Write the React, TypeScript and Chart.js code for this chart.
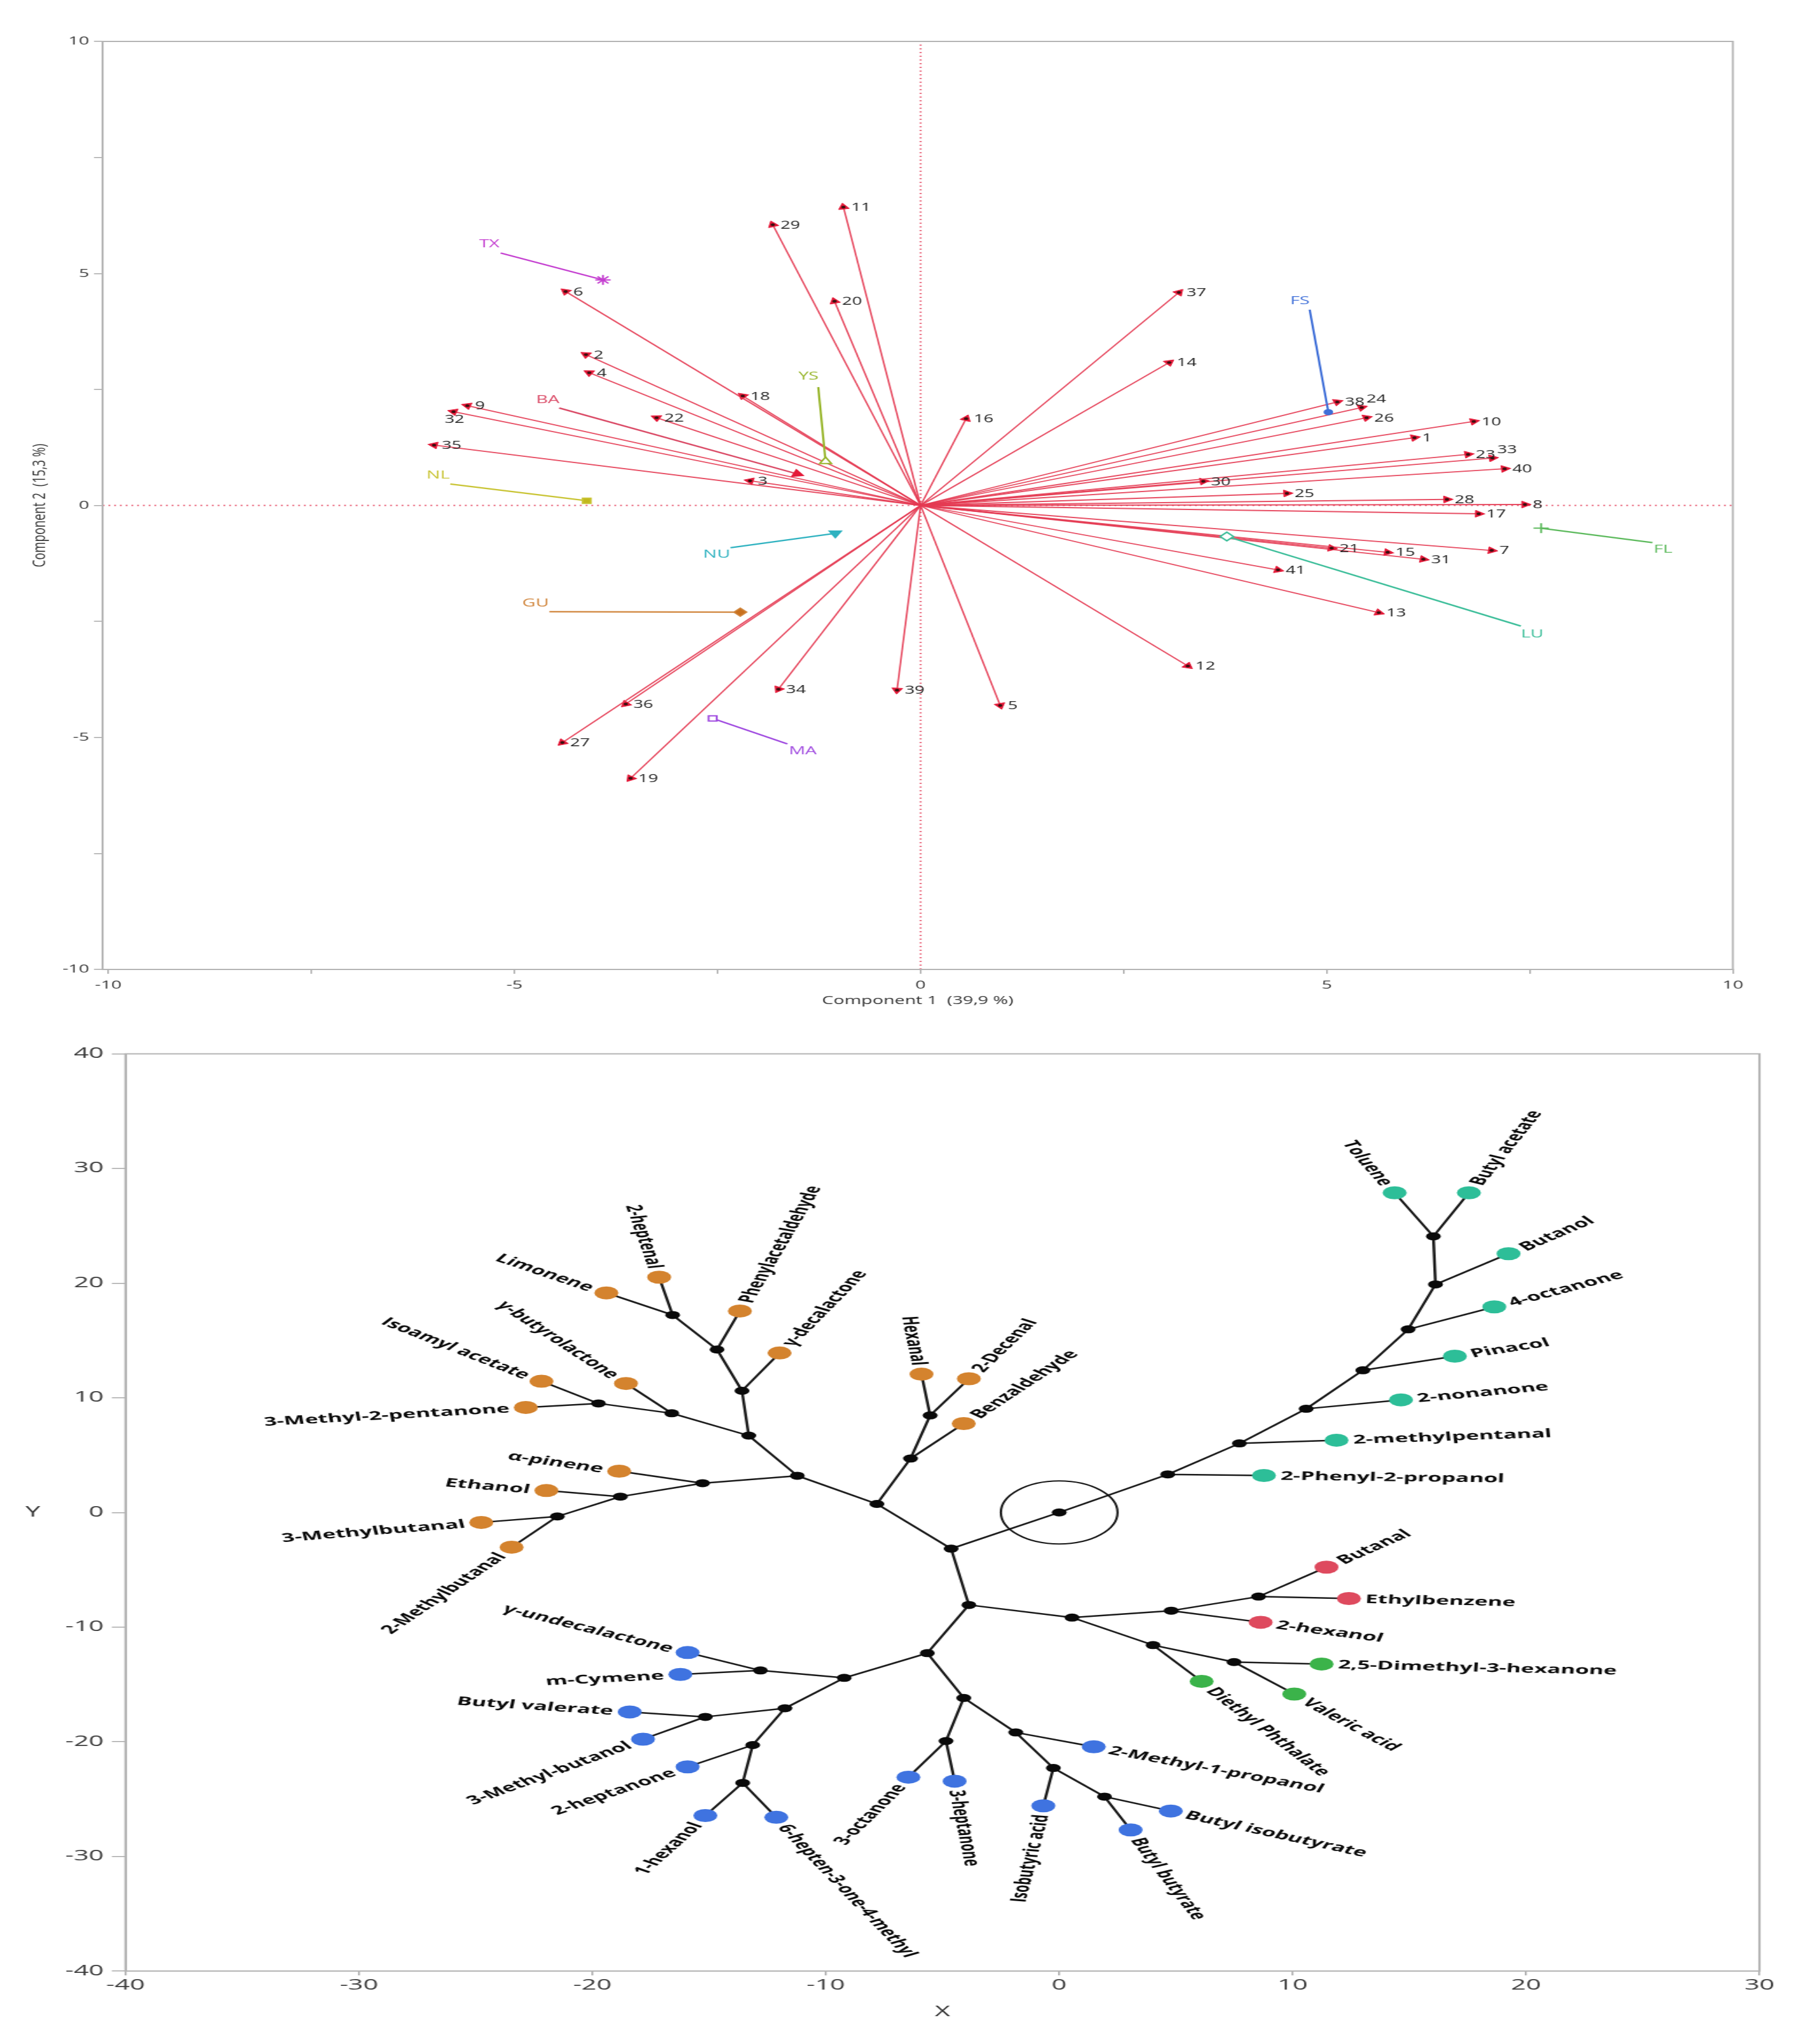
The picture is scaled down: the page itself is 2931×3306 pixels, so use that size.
import React, { useEffect, useRef } from 'react';
import { Chart, registerables } from 'chart.js';

Chart.register(...registerables);

const FONT = '"Open Sans", "Liberation Sans", Arial, sans-serif';
const PAGE_W = 2931;
const PAGE_H = 3306;

// ================= Top panel: PCA biplot =================
const compoundIds = ['1','2','3','4','5','6','7','8','9','10','11','12','13','14','15','16','17','18','19','20','21','22','23','24','25','26','27','28','29','30','31','32','33','34','35','36','37','38','39','40','41'];
const comp1Scores = [6.08,-4.12,-2.10,-4.08,0.98,-4.37,7.03,7.44,-5.58,6.81,-0.95,3.29,5.64,3.06,5.75,0.56,6.87,-2.19,-3.57,-1.06,5.06,-3.25,6.74,5.43,4.51,5.49,-4.41,6.48,-1.82,3.48,6.19,-5.75,7.04,-1.75,-5.99,-3.63,3.18,5.13,-0.29,7.19,4.40];
const comp2Scores = [1.46,3.25,0.53,2.86,-4.31,4.61,-0.97,0.02,2.15,1.81,6.43,-3.46,-2.31,3.08,-1.01,1.87,-0.18,2.36,-5.88,4.40,-0.92,1.89,1.10,2.11,0.26,1.89,-5.11,0.13,6.05,0.52,-1.16,2.02,1.02,-3.96,1.30,-4.28,4.59,2.23,-3.98,0.79,-1.39];
const idLabelPlacement: Record<string, string> = { '32': 'below', '24': 'aboveRight', '33': 'aboveRight' };
const biplotTicks = [-10, -7.5, -5, -2.5, 0, 2.5, 5, 7.5, 10];

const attrNames = ['TX','BA','YS','NL','NU','GU','MA','FS','LU','FL'];
const attrLabelX = [-5.31,-4.59,-1.38,-5.94,-2.51,-4.74,-1.45,4.67,7.53,9.14];
const attrLabelY = [5.64,2.28,2.78,0.65,-1.05,-2.11,-5.29,4.41,-2.77,-0.95];
const attrStartX = [-5.17,-4.45,-1.26,-5.79,-2.34,-4.57,-1.64,4.79,7.39,9.01];
const attrStartY = [5.44,2.10,2.55,0.46,-0.91,-2.29,-5.14,4.22,-2.60,-0.80];
const attrEndX = [-3.91,-1.52,-1.17,-4.11,-1.05,-2.22,-2.56,5.02,3.77,7.64];
const attrEndY = [4.86,0.68,0.95,0.10,-0.60,-2.30,-4.59,2.01,-0.67,-0.49];

// styles for attribute vectors
const attrColors = ['#C43FD0','#DA4A66','#97B52A','#C9C435','#2FB2C0','#D0843A','#A04BE0','#3F6FD8','#3DBE9A','#5DBA5D'];
const attrFill = ['#C43FD0','#E41B3A','#FFFFFF','#C2B81E','#2FB2C0','#C8701E','#FFFFFF','#3F6FD8','#FFFFFF','#5DBA5D'];
const attrMarker = ['star','triangle','triangle','rect','triangle','rectRot','rect','circle','rectRot','cross'];
const attrMarkerSize = [8,6.5,7,6,7,6.5,6,4,7,8];
const attrRotation: (number | string)[] = [0,'along',0,0,180,0,0,0,0,0];

const TOP_W = 1891;
const TOP_H = 1660;
const ARROW_LINE = 'rgba(228,58,82,0.9)';
const ARROW_HEAD = '#E41B3A';
const FRAME = '#b4b4b4';

function headRotation(ctx: any) {
  const chart = ctx.chart;
  const d = ctx.dataset && ctx.dataset.data;
  const xs = chart && chart.scales && chart.scales.x;
  const ys = chart && chart.scales && chart.scales.y;
  if (!d || !xs || !ys) return 0;
  const a = d[0], b = d[1];
  const dx = xs.getPixelForValue(b.x) - xs.getPixelForValue(a.x);
  const dy = ys.getPixelForValue(b.y) - ys.getPixelForValue(a.y);
  return (Math.atan2(dy, dx) * 180) / Math.PI + 90;
}

const biplotLabels = {
  id: 'biplotLabels',
  afterDatasetsDraw(chart: any) {
    const { ctx, chartArea, scales } = chart;
    const xs = scales.x, ys = scales.y;
    ctx.save();
    ctx.strokeStyle = FRAME;
    ctx.lineWidth = 2;
    ctx.strokeRect(chartArea.left, chartArea.top, chartArea.right - chartArea.left, chartArea.bottom - chartArea.top);
    ctx.font = `18px ${FONT}`;
    ctx.fillStyle = '#222';
    ctx.textBaseline = 'middle';
    compoundIds.forEach((id, i) => {
      const px = xs.getPixelForValue(comp1Scores[i]);
      const py = ys.getPixelForValue(comp2Scores[i]);
      const place = idLabelPlacement[id] || 'right';
      if (place === 'below') {
        ctx.textAlign = 'center';
        ctx.fillText(id, px + 1, py + 13);
      } else if (place === 'aboveRight') {
        ctx.textAlign = 'left';
        ctx.fillText(id, px + 5, py - 13);
      } else {
        ctx.textAlign = 'left';
        ctx.fillText(id, px + 8, py + 1);
      }
    });
    ctx.font = `19px ${FONT}`;
    ctx.textAlign = 'center';
    attrNames.forEach((name, i) => {
      ctx.fillStyle = attrColors[i];
      ctx.fillText(name, xs.getPixelForValue(attrLabelX[i]), ys.getPixelForValue(attrLabelY[i]));
    });
    ctx.restore();
  },
};

function buildBiplotConfig() {
  const datasets: any[] = [];
  const zeroStyle = {
    showLine: true,
    borderColor: 'rgba(232,92,115,0.95)',
    borderWidth: 2,
    borderDash: [2, 4],
    pointRadius: 0,
    order: 30,
  };
  datasets.push({ ...zeroStyle, data: [{ x: -10.07, y: 0 }, { x: 10, y: 0 }] });
  datasets.push({ ...zeroStyle, data: [{ x: 0, y: -10 }, { x: 0, y: 10 }] });

  compoundIds.forEach((id, i) => {
    datasets.push({
      label: id,
      data: [{ x: 0, y: 0 }, { x: comp1Scores[i], y: comp2Scores[i] }],
      showLine: true,
      borderColor: ARROW_LINE,
      borderWidth: 1.8,
      pointRadius: [0, 6.5],
      pointStyle: 'triangle',
      pointBackgroundColor: ARROW_HEAD,
      pointBorderColor: ARROW_HEAD,
      pointBorderWidth: 1,
      pointRotation: headRotation,
      order: 20,
    });
  });

  attrNames.forEach((name, i) => {
    const rot = attrRotation[i];
    datasets.push({
      label: name,
      data: [{ x: attrStartX[i], y: attrStartY[i] }, { x: attrEndX[i], y: attrEndY[i] }],
      showLine: true,
      borderColor: attrColors[i],
      borderWidth: 2.3,
      pointRadius: [0, attrMarkerSize[i]],
      pointStyle: attrMarker[i],
      pointBackgroundColor: attrFill[i],
      pointBorderColor: name === 'BA' ? ARROW_HEAD : attrColors[i],
      pointBorderWidth: 2,
      pointRotation: rot === 'along' ? headRotation : rot,
      order: 10,
    });
  });

  datasets.push({
    label: 'tips',
    data: compoundIds.map((_, i) => ({ x: comp1Scores[i], y: comp2Scores[i] })),
    showLine: false,
    pointRadius: 2.2,
    pointBackgroundColor: '#3a1010',
    pointBorderWidth: 0,
    order: 5,
  });

  const tickFont = { family: FONT, size: 19 };
  const setTicks = (s: any) => { s.ticks = biplotTicks.map((v) => ({ value: v })); };
  const fmt = (v: any) => (Math.abs(v % 5) < 1e-9 ? String(v) : '');
  return {
    type: 'scatter',
    data: { datasets },
    plugins: [biplotLabels],
    options: {
      responsive: false,
      animation: false,
      devicePixelRatio: 1,
      events: [],
      layout: { autoPadding: false, padding: { top: 67, right: 82.6, bottom: 0, left: 0 } },
      plugins: { legend: { display: false }, tooltip: { enabled: false } },
      scales: {
        x: {
          type: 'linear',
          min: -10.07,
          max: 10,
          afterBuildTicks: setTicks,
          afterFit: (s: any) => { s.height = TOP_H - 1568; },
          ticks: { autoSkip: false, maxRotation: 0, padding: 7, color: '#3a3a3a', font: tickFont, callback: fmt },
          grid: { drawOnChartArea: false, drawTicks: true, tickLength: 7, color: '#a8a8a8', lineWidth: 1.5 },
          border: { display: true, color: FRAME, width: 2 },
          title: { display: true, text: 'Component 1  (39,9 %)', color: '#333', font: { family: FONT, size: 19 }, padding: { top: 0, bottom: 30 } },
        },
        y: {
          type: 'linear',
          min: -10,
          max: 10,
          afterBuildTicks: setTicks,
          afterFit: (s: any) => { s.width = 166 / (PAGE_W / TOP_W); },
          ticks: { autoSkip: false, padding: 5, color: '#3a3a3a', font: tickFont, callback: fmt },
          grid: { drawOnChartArea: false, drawTicks: true, tickLength: 9, color: '#a8a8a8', lineWidth: 1.5 },
          border: { display: true, color: FRAME, width: 2 },
          title: { display: true, text: 'Component 2  (15,3 %)', color: '#333', font: { family: FONT, size: 19 }, padding: { top: 30, bottom: 0 } },
        },
      },
    },
  };
}

// ================= Bottom panel: dendrogram tree =================
const innerIds = ['R','A1','A2','A3','A4','A5','A6','A7','N1','N2','N5','N6','N4','N7','N9','N11','N12','N10','N13','N8','N14','N15','N3','N16','N18','N20','N19','N21','N17','N22','N24','N25','N26','N27','N28','N23','N29','N30','N31','N32'];
const innerX = [0,4.65,7.72,10.58,13.01,14.95,16.12,16.03,-4.63,-7.81,-6.37,-5.53,-11.22,-13.30,-13.59,-14.66,-16.56,-16.60,-19.74,-15.28,-18.80,-21.50,-3.87,0.55,4.80,8.54,4.02,7.49,-5.65,-9.21,-12.80,-11.75,-15.16,-13.13,-13.56,-4.09,-4.85,-1.86,-0.25,1.94];
const innerY = [0,3.32,6.02,9.04,12.40,15.97,19.89,24.08,-3.16,0.74,4.70,8.46,3.20,6.70,10.61,14.21,17.22,8.65,9.51,2.55,1.38,-0.35,-8.07,-9.17,-8.57,-7.34,-11.57,-13.05,-12.27,-14.43,-13.78,-17.08,-17.83,-20.29,-23.59,-16.18,-19.94,-19.19,-22.29,-24.79];
const innerParent: (string | null)[] = [null,'R','A1','A2','A3','A4','A5','A6','R','N1','N2','N5','N2','N4','N7','N9','N11','N7','N10','N4','N8','N14','N1','N3','N16','N18','N16','N19','N3','N17','N22','N22','N25','N25','N27','N17','N23','N23','N30','N31'];

const leafNames = ['Limonene','2-heptenal','Phenylacetaldehyde','γ-decalactone','Hexanal','2-Decenal','Benzaldehyde','γ-butyrolactone','Isoamyl acetate','3-Methyl-2-pentanone','α-pinene','Ethanol','3-Methylbutanal','2-Methylbutanal',
  'Toluene','Butyl acetate','Butanol','4-octanone','Pinacol','2-nonanone','2-methylpentanal','2-Phenyl-2-propanol',
  'Butanal','Ethylbenzene','2-hexanol',
  'Diethyl Phthalate','2,5-Dimethyl-3-hexanone','Valeric acid',
  'γ-undecalactone','m-Cymene','Butyl valerate','3-Methyl-butanol','2-heptanone','1-hexanol','6-hepten-3-one-4-methyl','3-octanone','3-heptanone','2-Methyl-1-propanol','Isobutyric acid','Butyl isobutyrate','Butyl butyrate'];
const leafX = [-19.40,-17.14,-13.68,-11.98,-5.90,-3.87,-4.09,-18.56,-22.18,-22.85,-18.85,-21.97,-24.76,-23.46,
  14.37,17.55,19.25,18.64,16.95,14.64,11.88,8.77,
  11.45,12.41,8.63,
  6.10,11.24,10.07,
  -15.92,-16.23,-18.40,-17.83,-15.92,-15.16,-12.12,-6.46,-4.48,1.48,-0.68,4.78,3.06];
const leafY = [19.15,20.52,17.57,13.91,12.06,11.66,7.75,11.25,11.44,9.16,3.60,1.91,-0.87,-3.03,
  27.88,27.88,22.57,17.93,13.63,9.82,6.30,3.22,
  -4.77,-7.51,-9.58,
  -14.73,-13.22,-15.84,
  -12.22,-14.13,-17.40,-19.78,-22.19,-26.44,-26.59,-23.09,-23.44,-20.44,-25.59,-26.04,-27.69];
const leafParent = ['N12','N12','N11','N9','N6','N6','N5','N10','N13','N13','N8','N14','N15','N15',
  'A7','A7','A6','A5','A4','A3','A2','A1',
  'N20','N20','N18',
  'N19','N21','N21',
  'N24','N24','N26','N26','N27','N28','N28','N29','N29','N30','N31','N32','N32'];
const leafGroup = ['orange','orange','orange','orange','orange','orange','orange','orange','orange','orange','orange','orange','orange','orange',
  'teal','teal','teal','teal','teal','teal','teal','teal',
  'red','red','red',
  'green','green','green',
  'blue','blue','blue','blue','blue','blue','blue','blue','blue','blue','blue','blue','blue'];
const groupOrder = ['orange','teal','red','green','blue'];
const groupColors: Record<string, string> = { orange: '#D4832E', teal: '#2DBE98', red: '#DE4A5E', green: '#3BB34A', blue: '#3F73E0' };

const BOT_W = 1584;
const BOT_H = 1646;
const LEAF_R = 10.5;

function innerIndex(id: string) { return innerIds.indexOf(id); }

const treeLabels = {
  id: 'treeLabels',
  afterDatasetsDraw(chart: any) {
    const { ctx, chartArea, scales } = chart;
    const xs = scales.x, ys = scales.y;
    ctx.save();
    ctx.strokeStyle = FRAME;
    ctx.lineWidth = 2;
    ctx.strokeRect(chartArea.left, chartArea.top, chartArea.right - chartArea.left, chartArea.bottom - chartArea.top);
    ctx.font = `bold 19.5px ${FONT}`;
    ctx.fillStyle = '#0b0b0b';
    ctx.textBaseline = 'middle';
    leafNames.forEach((name, i) => {
      const p = innerIndex(leafParent[i]);
      const x0 = xs.getPixelForValue(innerX[p]);
      const y0 = ys.getPixelForValue(innerY[p]);
      const x1 = xs.getPixelForValue(leafX[i]);
      const y1 = ys.getPixelForValue(leafY[i]);
      const a = Math.atan2(y1 - y0, x1 - x0);
      ctx.save();
      ctx.translate(x1, y1);
      if (x1 >= x0) {
        ctx.rotate(a);
        ctx.textAlign = 'left';
        ctx.fillText(name, LEAF_R + 4, 1);
      } else {
        ctx.rotate(a + Math.PI);
        ctx.textAlign = 'right';
        ctx.fillText(name, -(LEAF_R + 4), 1);
      }
      ctx.restore();
    });
    ctx.font = `23px ${FONT}`;
    ctx.fillStyle = '#333';
    ctx.textAlign = 'center';
    ctx.fillText('Y', 53 / (PAGE_W / BOT_W), ys.getPixelForValue(0));
    ctx.restore();
  },
};

function buildTreeConfig() {
  const edgePoints: any[] = [];
  innerIds.forEach((id, i) => {
    const par = innerParent[i];
    if (!par) return;
    const p = innerIndex(par);
    edgePoints.push({ x: innerX[p], y: innerY[p] }, { x: innerX[i], y: innerY[i] }, { x: NaN, y: NaN });
  });
  leafNames.forEach((_, i) => {
    const p = innerIndex(leafParent[i]);
    edgePoints.push({ x: innerX[p], y: innerY[p] }, { x: leafX[i], y: leafY[i] }, { x: NaN, y: NaN });
  });

  const datasets: any[] = [];
  datasets.push({
    label: 'root ring',
    data: [{ x: innerX[0], y: innerY[0] }],
    pointRadius: 51,
    pointStyle: 'circle',
    pointBackgroundColor: 'rgba(0,0,0,0)',
    pointBorderColor: '#151515',
    pointBorderWidth: 2,
    order: 1,
  });
  groupOrder.forEach((g) => {
    const pts: any[] = [];
    leafNames.forEach((_, i) => { if (leafGroup[i] === g) pts.push({ x: leafX[i], y: leafY[i] }); });
    datasets.push({
      label: g,
      data: pts,
      pointRadius: LEAF_R,
      pointStyle: 'circle',
      pointBackgroundColor: groupColors[g],
      pointBorderWidth: 0,
      order: 2,
    });
  });
  datasets.push({
    label: 'inner nodes',
    data: innerIds.map((_, i) => ({ x: innerX[i], y: innerY[i] })),
    pointRadius: 6.5,
    pointBackgroundColor: '#0a0a0a',
    pointBorderWidth: 0,
    order: 3,
  });
  datasets.push({
    label: 'edges',
    data: edgePoints,
    showLine: true,
    spanGaps: false,
    borderColor: '#1a1a1a',
    borderWidth: 2.5,
    pointRadius: 0,
    order: 10,
  });

  const tickFont = { family: FONT, size: 23 };
  return {
    type: 'scatter',
    data: { datasets },
    plugins: [treeLabels],
    options: {
      responsive: false,
      animation: false,
      devicePixelRatio: 1,
      events: [],
      layout: { autoPadding: false, padding: { top: 44.5, right: BOT_W - 2846 / (PAGE_W / BOT_W), bottom: 0, left: 0 } },
      plugins: { legend: { display: false }, tooltip: { enabled: false } },
      scales: {
        x: {
          type: 'linear',
          min: -40,
          max: 30,
          afterFit: (s: any) => { s.height = BOT_H - 1528; },
          ticks: { stepSize: 10, autoSkip: false, maxRotation: 0, padding: 3, color: '#3a3a3a', font: tickFont },
          grid: { drawOnChartArea: false, drawTicks: true, tickLength: 7, color: '#a8a8a8', lineWidth: 1.5 },
          border: { display: true, color: FRAME, width: 2 },
          title: { display: true, text: 'X', color: '#333', font: { family: FONT, size: 23 }, padding: { top: 0, bottom: 38 } },
        },
        y: {
          type: 'linear',
          min: -40,
          max: 40,
          afterFit: (s: any) => { s.width = 203 / (PAGE_W / BOT_W); },
          ticks: { stepSize: 10, autoSkip: false, padding: 7, color: '#3a3a3a', font: tickFont },
          grid: { drawOnChartArea: false, drawTicks: true, tickLength: 12, color: '#a8a8a8', lineWidth: 1.5 },
          border: { display: true, color: FRAME, width: 2 },
          title: { display: false },
        },
      },
    },
  };
}

function BiplotPanel() {
  const ref = useRef<HTMLCanvasElement | null>(null);
  useEffect(() => {
    if (!ref.current) return;
    const chart = new Chart(ref.current, buildBiplotConfig() as any);
    return () => chart.destroy();
  }, []);
  return (
    <canvas
      ref={ref}
      width={TOP_W}
      height={TOP_H}
      style={{ position: 'absolute', left: 0, top: 0, width: `${PAGE_W}px`, height: `${TOP_H}px` }}
    />
  );
}

function TreePanel() {
  const ref = useRef<HTMLCanvasElement | null>(null);
  useEffect(() => {
    if (!ref.current) return;
    const chart = new Chart(ref.current, buildTreeConfig() as any);
    return () => chart.destroy();
  }, []);
  return (
    <canvas
      ref={ref}
      width={BOT_W}
      height={BOT_H}
      style={{ position: 'absolute', left: 0, top: `${TOP_H}px`, width: `${PAGE_W}px`, height: `${BOT_H}px` }}
    />
  );
}

export default function App() {
  return (
    <div style={{ position: 'absolute', left: 0, top: 0, width: `${PAGE_W}px`, height: `${PAGE_H}px`, background: '#fff' }}>
      <BiplotPanel />
      <TreePanel />
    </div>
  );
}
